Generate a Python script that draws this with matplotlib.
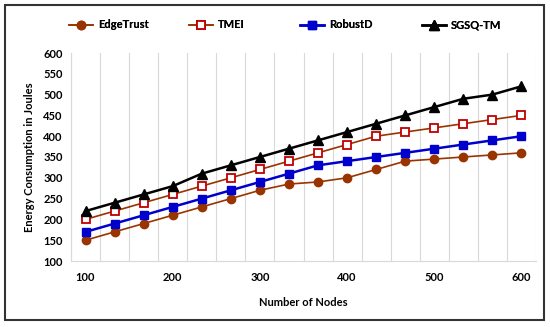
import numpy as np
import matplotlib
matplotlib.use("Agg")
import matplotlib.pyplot as plt
from matplotlib.patches import Rectangle

nodes = [100, 133, 167, 200, 233, 267, 300, 333, 367, 400, 433, 467, 500, 533, 567, 600]
edge_trust = [150, 170, 190, 210, 230, 250, 270, 285, 290, 300, 320, 340, 345, 350, 355, 360]
tmei = [200, 220, 240, 260, 280, 300, 320, 340, 360, 380, 400, 410, 420, 430, 440, 450]
robust_d = [170, 190, 210, 230, 250, 270, 290, 310, 330, 340, 350, 360, 370, 380, 390, 400]
sgsq_tm = [220, 240, 260, 280, 310, 330, 350, 370, 390, 410, 430, 450, 470, 490, 500, 520]

plt.rcParams['font.family'] = ['Lato', 'DejaVu Sans']
plt.rcParams['font.weight'] = 'bold'

fig = plt.figure(figsize=(5.5, 3.27), dpi=100)
ax = fig.add_axes([71/550, 1-261/327, (536-71)/550, (261-53)/327])

x = np.arange(len(nodes))
lines = []
lines += ax.plot(x, edge_trust, color="#993300", lw=1.2, marker="o", ms=6,
                 mfc="#993300", mec="#993300", label="EdgeTrust")
lines += ax.plot(x, tmei, color="#993300", lw=1.2, marker="s", ms=6,
                 mfc="white", mec="#C00000", mew=1.3, label="TMEI")
lines += ax.plot(x, robust_d, color="#0000CC", lw=1.8, marker="s", ms=6,
                 mfc="#0000CC", mec="#0000CC", label="RobustD")
lines += ax.plot(x, sgsq_tm, color="black", lw=1.8, marker="^", ms=6.5,
                 mfc="black", mec="black", label="SGSQ-TM")

ax.set_xlim(-0.5, len(nodes)-0.5)
ax.set_ylim(100, 600)
ax.set_yticks(np.arange(100, 601, 50))
lab_idx = [i for i, n in enumerate(nodes) if n % 100 == 0]
ax.set_xticks(lab_idx)
ax.set_xticklabels([str(nodes[i]) for i in lab_idx])
ax.set_xticks(np.arange(-0.5, len(nodes)), minor=True)
ax.grid(True, which="minor", axis="x", color="#D9D9D9", lw=0.8)
ax.tick_params(axis="both", which="both", length=0, labelsize=8, pad=8)
ax.tick_params(axis="y", pad=6)
for s in ["top", "right"]:
    ax.spines[s].set_visible(False)
for s in ["left", "bottom"]:
    ax.spines[s].set_color("#D9D9D9")
    ax.spines[s].set_linewidth(0.8)

ax.set_xlabel("Number of Nodes", fontsize=8, fontweight="bold", labelpad=10)
ax.set_ylabel("Energy Consumption in Joules", fontsize=8, fontweight="bold", labelpad=6)

# one legend per entry, spaced like the excel legend
for ln, lx in zip(lines, [59, 179, 290, 412]):
    fig.add_artist(fig.legend([ln], [ln.get_label()], loc="center left",
                              bbox_to_anchor=(lx/550, 1-25/327), frameon=False,
                              fontsize=8, handlelength=2.2, handletextpad=0.4))

fig.add_artist(Rectangle((5/550, 1-320/327), 539/550, 315/327, transform=fig.transFigure,
                         fill=False, edgecolor="#333333", lw=1.5))

fig.savefig("out.png", dpi=100)
